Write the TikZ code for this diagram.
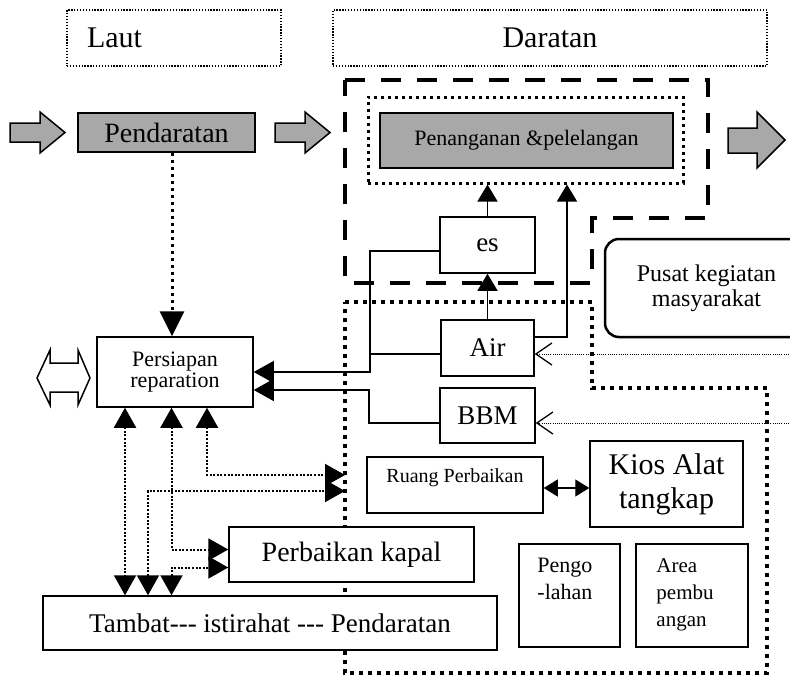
\documentclass[tikz,border=0pt]{standalone}
\usepackage{fontspec}
\setmainfont{Liberation Serif}
\usetikzlibrary{arrows.meta}
\definecolor{stip}{gray}{0.66}
\newcommand\fsz[2]{\fontsize{#1}{#2}\selectfont}
\begin{document}
\begin{tikzpicture}[x=1pt,y=-1pt,
  box/.style={draw, line width=1.5pt, fill=white, inner sep=0pt, align=center},
  shaded/.style={box, fill=stip},
  hdr/.style={draw, line width=1.3pt, dash pattern=on 1.3pt off 1.6pt, inner sep=0pt},
  dashzone/.style={line width=4pt, dash pattern=on 20pt off 16pt},
  dotzone/.style={line width=4pt, dash pattern=on 4pt off 5pt},
  dotframe/.style={draw, line width=3pt, dash pattern=on 3pt off 4pt, inner sep=0pt},
  blockarr/.style={draw, line width=1.5pt, fill=stip, line join=miter},
  solidcon/.style={line width=1.3pt},
  lnk/.style={line width=2pt, dash pattern=on 2pt off 1.6pt},
  feed/.style={line width=1pt, dash pattern=on 1pt off 1.2pt},
  tri/.tip={Triangle[length=20pt,width=22pt]},
  smalltri/.tip={Triangle[length=17pt,width=20pt]},
  barb/.tip={Straight Barb[length=16pt,width=22pt,line width=1.3pt]}
]
\useasboundingbox (0,0) rectangle (790,683);
\clip (0,0) rectangle (790,683);

% ---- zone outlines ----
\draw[dashzone] (345,80) -- (708,80) -- (708,218) -- (592,218) -- (592,283) -- (345,283) -- cycle;
\draw[dotzone] (345,302) -- (592,302) -- (592,388) -- (767,388) -- (767,673) -- (345,673) -- cycle;
\coordinate (zr1) at (345,491);
\coordinate (zr2) at (345,475);

% ---- headings ----
\node[hdr, minimum width=214pt, minimum height=56pt, text width=174pt, inner xsep=20pt, align=left,
      font=\fsz{30}{32}] (laut) at (174,38) {Laut};
\node[hdr, minimum width=434pt, minimum height=56pt, font=\fsz{30}{32}] (darat) at (550,38) {Daratan};

% ---- flow arrows ----
\draw[blockarr] (10,123) -- (40,123) -- (40,112) -- (65,132.5) -- (40,153) -- (40,142) -- (10,142) -- cycle;
\draw[blockarr] (275,123) -- (305,123) -- (305,112) -- (330,132.5) -- (305,153) -- (305,142) -- (275,142) -- cycle;
\draw[blockarr] (728,128) -- (757,128) -- (757,112) -- (785,140) -- (757,168) -- (757,153) -- (728,153) -- cycle;
\draw[line width=1.5pt, fill=white, line join=miter]
  (37,378) -- (50,350) -- (50,363) -- (78,363) -- (78,350) -- (90,378)
  -- (78,405) -- (78,392) -- (50,392) -- (50,405) -- cycle;

% ---- boxes ----
\node[shaded, minimum width=177pt, minimum height=39pt, font=\fsz{28}{30}] (pend) at (166.5,132.5) {Pendaratan};
\node[dotframe, minimum width=315pt, minimum height=86pt] (pbox) at (525.5,140) {};
\node[shaded, minimum width=293pt, minimum height=55pt, font=\fsz{22}{24}] (pen) at (526.5,140.5) {Penanganan \&pelelangan};
\node[box, minimum width=95pt, minimum height=56pt, font=\fsz{27}{29}] (es) at (487.5,245) {es};
\node[box, minimum width=93pt, minimum height=56pt, font=\fsz{27}{29}] (air) at (487.5,348) {Air};
\node[box, minimum width=95pt, minimum height=55pt, font=\fsz{27}{29}] (bbm) at (487.5,415.5) {BBM};
\node[box, minimum width=156pt, minimum height=70pt, font=\fsz{22}{21}] (prep) at (175,372) {Persiapan\\reparation};
\node[box, rounded corners=14pt, line width=2.5pt, minimum width=203pt, minimum height=98pt,
      font=\fsz{24}{25}] (pusat) at (706.5,288) {Pusat kegiatan\\masyarakat};
\node[box, minimum width=176pt, minimum height=56pt, text depth=18pt, font=\fsz{20}{22}] (ruang) at (455,485) {Ruang Perbaikan};
\node[box, minimum width=153pt, minimum height=86pt, font=\fsz{30}{34}] (kios) at (666.5,484) {Kios Alat\\tangkap};
\node[box, minimum width=101pt, minimum height=103pt] (pengo) at (569.5,595.5) {};
\node[inner sep=0pt, anchor=north west, align=left, font=\fsz{22}{27}] (pengoT)
  at ([shift={(19,15)}]pengo.north west) {Pengo\\-lahan};
\node[box, minimum width=112pt, minimum height=103pt] (area) at (692,595.5) {};
\node[inner sep=0pt, anchor=north west, align=left, font=\fsz{21}{27}] (areaT)
  at ([shift={(21,15)}]area.north west) {Area\\pembu\\angan};
\node[box, minimum width=245pt, minimum height=55pt, font=\fsz{28}{30}] (kapal) at (351.5,554.5) {Perbaikan kapal};
\node[box, minimum width=454pt, minimum height=54pt, font=\fsz{27}{29}] (tambat) at (270,623)
  {Tambat\mbox{-}\mbox{-}\mbox{-} istirahat \mbox{-}\mbox{-}\mbox{-} Pendaratan};

% ---- supply lines ----
\coordinate (airup) at (567,0);
\draw[solidcon, -smalltri] (es.north) -- (es.north |- pbox.south);
\draw[solidcon, -smalltri] (air.north) -- (es.south);
\draw[solidcon, -smalltri] ([shift={(0,-11)}]air.east) -| (airup |- pbox.south);
\draw[solidcon, -tri] ([shift={(0,6)}]es.west) -| (370,372) -- (prep.east);
\draw[solidcon] ([shift={(0,6)}]air.west) -- (370,354);
\draw[solidcon, -tri] ([shift={(0,7.5)}]bbm.west) -| (369,390) -- ([shift={(0,18)}]prep.east);

\coordinate (srcA) at (800,354);
\coordinate (srcB) at (800,423);
\draw[feed, -barb] (srcA) -- ([shift={(0,6)}]air.east);
\draw[feed, -barb] (srcB) -- ([shift={(0,7.5)}]bbm.east);

\draw[line width=3pt, dash pattern=on 3pt off 4pt, -{Triangle[length=25pt,width=24pt]}]
  (pend.south -| prep.north) ++(-3,0) -- ([xshift=-3pt]prep.north);

% ---- service links ----
\coordinate (xa) at (125,0);
\coordinate (xb) at (148,0);
\coordinate (xc) at (171.5,0);
\coordinate (xd) at (207,0);
\draw[lnk, tri-tri] (xa |- prep.south) -- (xa |- tambat.north);
\draw[lnk, tri-tri] (xc |- prep.south) |- ([shift={(0,-5)}]kapal.west);
\draw[lnk, tri-tri] (xb |- tambat.north) |- (zr1);
\draw[lnk, tri-tri] (xd |- prep.south) |- (zr2);
\draw[lnk, tri-tri] (xc |- tambat.north) |- ([shift={(0,13)}]kapal.west);

\draw[solidcon, {Triangle[length=14pt,width=17pt]}-{Triangle[length=14pt,width=17pt]}]
  ([shift={(0,3)}]ruang.east) -- ([shift={(0,3)}]ruang.east -| kios.west);
\end{tikzpicture}
\end{document}
